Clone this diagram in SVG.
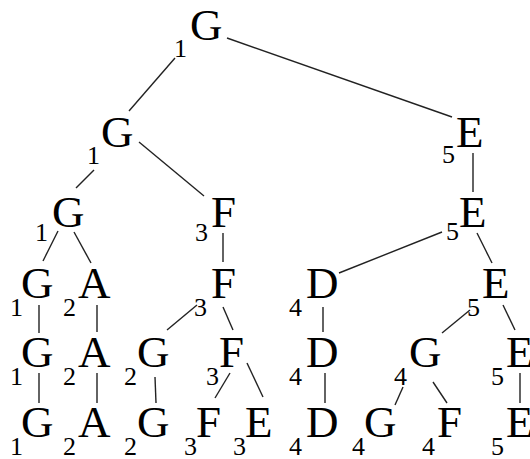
<svg xmlns="http://www.w3.org/2000/svg" width="530" height="459" viewBox="0 0 530 459">
<style>
text{font-family:'Liberation Serif','Times New Roman',serif;fill:#000}
.n{font-size:45px}
.s{font-size:26px}
.e line{stroke:#222;stroke-width:1.4}
</style>
<rect width="530" height="459" fill="#fff"/>
<g class="e" id="connectors">
<line x1="175" y1="58" x2="129" y2="111"/>
<line x1="227" y1="38" x2="452" y2="117"/>
<line x1="94" y1="170" x2="76" y2="188"/>
<line x1="139" y1="142" x2="204" y2="196"/>
<line x1="473" y1="153" x2="473" y2="192"/>
<line x1="58" y1="231" x2="43" y2="261"/>
<line x1="74" y1="232" x2="91" y2="263"/>
<line x1="223" y1="233" x2="223" y2="262"/>
<line x1="442" y1="232" x2="339" y2="273"/>
<line x1="477" y1="233" x2="492" y2="263"/>
<line x1="39" y1="305" x2="39" y2="333"/>
<line x1="97" y1="305" x2="97" y2="332"/>
<line x1="197" y1="305" x2="167" y2="330"/>
<line x1="223" y1="307" x2="233" y2="330"/>
<line x1="323" y1="307" x2="323" y2="332"/>
<line x1="470" y1="310" x2="442" y2="333"/>
<line x1="503" y1="305" x2="515" y2="330"/>
<line x1="39" y1="373" x2="39" y2="403"/>
<line x1="97" y1="373" x2="97" y2="403"/>
<line x1="155" y1="377" x2="156" y2="403"/>
<line x1="230" y1="373" x2="215" y2="398"/>
<line x1="247" y1="363" x2="263" y2="397"/>
<line x1="325" y1="373" x2="325" y2="403"/>
<line x1="403" y1="387" x2="395" y2="405"/>
<line x1="433" y1="382" x2="447" y2="403"/>
<line x1="520" y1="373" x2="520" y2="403"/>
</g>
<g id="n1"><text class="s" x="174" y="57">1</text><text class="n" x="190" y="40">G</text></g>
<g id="n2"><text class="s" x="87" y="164">1</text><text class="n" x="101" y="147">G</text></g>
<g id="n3"><text class="s" x="442" y="163">5</text><text class="n" x="456" y="147">E</text></g>
<g id="n4"><text class="s" x="35" y="241">1</text><text class="n" x="52" y="227">G</text></g>
<g id="n5"><text class="s" x="195" y="241">3</text><text class="n" x="211" y="227">F</text></g>
<g id="n6"><text class="s" x="446" y="240">5</text><text class="n" x="459" y="227">E</text></g>
<g id="n7"><text class="s" x="10" y="316">1</text><text class="n" x="21" y="298">G</text></g>
<g id="n8"><text class="s" x="63" y="316">2</text><text class="n" x="78" y="298">A</text></g>
<g id="n9"><text class="s" x="194" y="316">3</text><text class="n" x="211" y="298">F</text></g>
<g id="n10"><text class="s" x="289" y="316">4</text><text class="n" x="306" y="298">D</text></g>
<g id="n11"><text class="s" x="467" y="316">5</text><text class="n" x="482" y="298">E</text></g>
<g id="n12"><text class="s" x="10" y="385">1</text><text class="n" x="21" y="367">G</text></g>
<g id="n13"><text class="s" x="63" y="385">2</text><text class="n" x="78" y="367">A</text></g>
<g id="n14"><text class="s" x="124" y="385">2</text><text class="n" x="137" y="367">G</text></g>
<g id="n15"><text class="s" x="206" y="385">3</text><text class="n" x="219" y="367">F</text></g>
<g id="n16"><text class="s" x="289" y="385">4</text><text class="n" x="306" y="367">D</text></g>
<g id="n17"><text class="s" x="394" y="385">4</text><text class="n" x="409" y="367">G</text></g>
<g id="n18"><text class="s" x="491" y="385">5</text><text class="n" x="506" y="367">E</text></g>
<g id="n19"><text class="s" x="10" y="455">1</text><text class="n" x="21" y="437">G</text></g>
<g id="n20"><text class="s" x="63" y="455">2</text><text class="n" x="78" y="437">A</text></g>
<g id="n21"><text class="s" x="124" y="455">2</text><text class="n" x="137" y="437">G</text></g>
<g id="n22"><text class="s" x="184" y="455">3</text><text class="n" x="196" y="437">F</text></g>
<g id="n23"><text class="s" x="233" y="455">3</text><text class="n" x="245" y="437">E</text></g>
<g id="n24"><text class="s" x="289" y="455">4</text><text class="n" x="306" y="437">D</text></g>
<g id="n25"><text class="s" x="352" y="455">4</text><text class="n" x="364" y="437">G</text></g>
<g id="n26"><text class="s" x="422" y="455">4</text><text class="n" x="437" y="437">F</text></g>
<g id="n27"><text class="s" x="491" y="455">5</text><text class="n" x="506" y="437">E</text></g>
</svg>
